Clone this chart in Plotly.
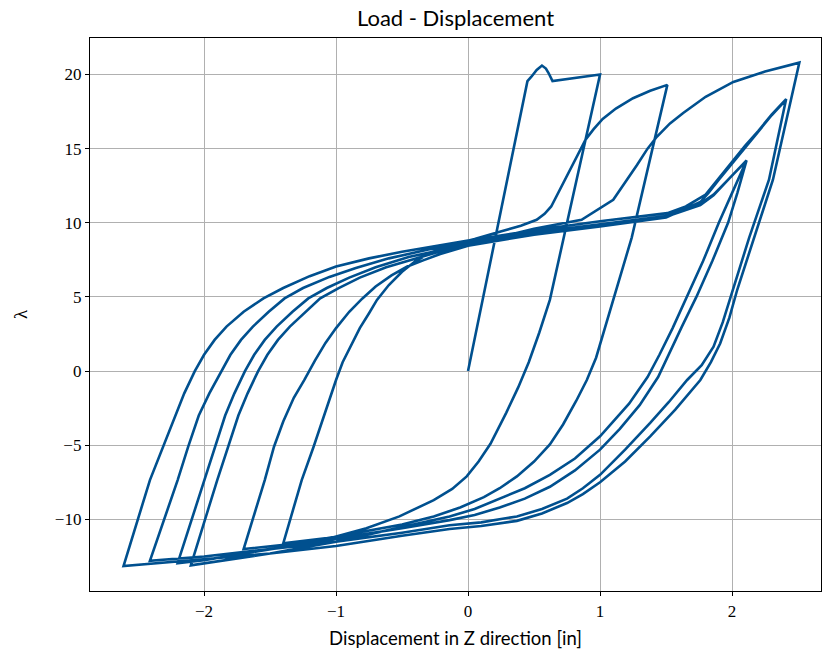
import plotly.graph_objects as go

# ---- data (displacement [in], load factor lambda) ----
# initial loading to +1.0
a_x = [0.0, 0.45, 0.48, 0.52, 0.56, 0.59, 0.61, 0.64, 1.0]
a_y = [0.0, 19.55, 19.85, 20.3, 20.6, 20.4, 20.1, 19.55, 20.0]
# unloading to -1.4
b_x = [1.0, 0.785, 0.62, 0.54, 0.46, 0.38, 0.29, 0.17, 0.08, -0.01, -0.12, -0.26, -0.52, -0.77, -1.02, -1.40]
b_y = [20.0, 11.5, 4.8, 2.6, 0.6, -1.1, -2.8, -4.9, -6.1, -7.1, -7.95, -8.7, -9.8, -10.6, -11.2, -11.62]
# reloading to +1.5
c_x = [-1.40, -1.26, -1.17, -1.10, -1.05, -1.0, -0.95, -0.88, -0.82, -0.75, -0.69, -0.60, -0.50, -0.40, -0.28,
       -0.15, 0.05, 0.22, 0.40, 0.52, 0.58, 0.63, 0.70, 0.77, 0.83, 0.89, 0.95, 1.02, 1.12, 1.25, 1.38, 1.51]
c_y = [-11.62, -7.35, -5.1, -3.2, -1.8, -0.6, 0.6, 1.8, 2.9, 3.9, 4.8, 5.8, 6.7, 7.4, 8.0,
       8.45, 8.9, 9.35, 9.8, 10.2, 10.6, 11.1, 12.3, 13.5, 14.6, 15.6, 16.3, 17.0, 17.7, 18.4, 18.9, 19.3]
# unloading to -1.7
d_x = [1.51, 1.24, 1.10, 1.03, 0.97, 0.90, 0.82, 0.72, 0.62, 0.50, 0.37, 0.24, 0.12, -0.06, -0.26, -0.50,
       -0.77, -1.02, -1.27, -1.70]
d_y = [19.3, 9.0, 4.8, 2.6, 0.9, -0.6, -2.0, -3.6, -4.95, -6.1, -7.1, -7.9, -8.5, -9.2, -9.8, -10.35,
       -10.8, -11.2, -11.6, -12.0]
# reloading to +2.5
e_x = [-1.70, -1.54, -1.47, -1.40, -1.32, -1.24, -1.16, -1.08, -1.0, -0.90, -0.80, -0.70, -0.58, -0.46, -0.33,
       -0.21, 0.0, 0.2, 0.5, 0.86, 1.10, 1.19, 1.28, 1.36, 1.43, 1.53, 1.63, 1.80, 2.01, 2.25, 2.51]
e_y = [-12.0, -7.35, -5.1, -3.4, -1.8, -0.6, 0.7, 1.9, 2.9, 4.0, 4.9, 5.7, 6.45, 7.05, 7.5,
       7.9, 8.45, 8.95, 9.6, 10.2, 11.55, 12.7, 13.9, 15.0, 15.8, 16.7, 17.4, 18.5, 19.5, 20.2, 20.8]
# unloading to -2.6
f_x = [2.51, 2.31, 2.17, 2.04, 1.98, 1.91, 1.84, 1.76, 1.57, 1.38, 1.19, 1.0, 0.87, 0.75, 0.56, 0.37, 0.10,
       -0.14, -0.50, -1.0, -1.5, -2.0, -2.61]
f_y = [20.8, 12.9, 9.0, 5.5, 3.6, 1.86, 0.6, -0.6, -2.6, -4.4, -6.1, -7.5, -8.3, -8.9, -9.6, -10.1, -10.45,
       -10.65, -11.1, -11.8, -12.3, -12.7, -13.15]
# reloading to +2.4
g_x = [-2.61, -2.41, -2.31, -2.22, -2.15, -2.07, -2.0, -1.92, -1.83, -1.70, -1.55, -1.40, -1.2, -1.0, -0.75,
       -0.5, -0.25, 0.0, 0.5, 1.0, 1.51, 1.65, 1.80, 1.90, 2.0, 2.1, 2.2, 2.3, 2.41]
g_y = [-13.15, -7.35, -5.1, -3.0, -1.5, 0.0, 1.1, 2.1, 3.0, 4.0, 4.9, 5.6, 6.4, 7.05, 7.6,
       8.05, 8.45, 8.8, 9.5, 10.1, 10.65, 11.1, 11.9, 13.0, 14.1, 15.2, 16.2, 17.3, 18.34]
# unloading to -2.4
h_x = [2.41, 2.28, 2.13, 1.99, 1.93, 1.86, 1.77, 1.66, 1.52, 1.38, 1.19, 1.0, 0.87, 0.75, 0.56, 0.37, 0.10,
       -0.14, -0.5, -1.0, -1.5, -2.0, -2.41]
h_y = [18.34, 12.9, 9.0, 5.0, 3.3, 1.64, 0.4, -0.6, -2.1, -3.5, -5.3, -7.0, -7.9, -8.6, -9.3, -9.8, -10.2,
       -10.4, -10.9, -11.5, -12.0, -12.5, -12.8]
# reloading to +2.1
i_x = [-2.41, -2.20, -2.12, -2.04, -1.96, -1.87, -1.80, -1.72, -1.63, -1.51, -1.39, -1.25, -1.05, -0.85, -0.6,
       -0.3, 0.0, 0.5, 1.0, 1.5, 1.76, 1.86, 1.98, 2.11]
i_y = [-12.8, -7.35, -5.1, -3.0, -1.5, 0.0, 1.1, 2.1, 3.0, 4.0, 4.9, 5.6, 6.35, 6.95, 7.6,
       8.2, 8.65, 9.35, 9.9, 10.45, 11.3, 11.9, 13.0, 14.2]
# unloading to -2.2
j_x = [2.11, 2.04, 1.97, 1.85, 1.73, 1.62, 1.53, 1.44, 1.30, 1.15, 1.0, 0.81, 0.62, 0.43, 0.24, 0.05,
       -0.14, -0.5, -1.0, -1.5, -2.0, -2.20]
j_y = [14.2, 12.0, 10.0, 7.4, 5.0, 3.0, 1.3, -0.4, -2.3, -3.9, -5.3, -6.7, -7.8, -8.6, -9.2, -9.7,
       -10.05, -10.6, -11.3, -12.0, -12.75, -12.95]
# reloading to +2.1
k_x = [-2.20, -2.0, -1.92, -1.84, -1.77, -1.69, -1.62, -1.54, -1.45, -1.33, -1.21, -1.07, -0.9, -0.7, -0.45,
       -0.2, 0.0, 0.5, 1.0, 1.5, 1.76, 1.86, 1.98, 2.11]
k_y = [-12.95, -7.35, -5.1, -3.0, -1.5, 0.0, 1.1, 2.1, 3.0, 4.0, 4.9, 5.6, 6.3, 7.0, 7.7,
       8.2, 8.55, 9.25, 9.8, 10.4, 11.2, 11.85, 13.0, 14.2]
# unloading to -2.1
l_x = [2.11, 2.0, 1.90, 1.78, 1.66, 1.55, 1.45, 1.36, 1.22, 1.10, 1.0, 0.81, 0.62, 0.43, 0.24, 0.05,
       -0.14, -0.5, -1.0, -1.5, -2.0, -2.10]
l_y = [14.2, 12.0, 10.0, 7.4, 5.0, 2.9, 1.1, -0.4, -2.2, -3.4, -4.4, -5.9, -7.0, -7.9, -8.6, -9.3,
       -9.8, -10.5, -11.5, -12.3, -12.95, -13.1]
# final reloading to +2.4
m_x = [-2.10, -1.90, -1.82, -1.74, -1.67, -1.59, -1.52, -1.44, -1.35, -1.23, -1.12, -0.98, -0.82, -0.62, -0.4,
       -0.2, 0.0, 0.5, 1.0, 1.5, 1.76, 1.82, 1.9, 2.0, 2.1, 2.2, 2.3, 2.41]
m_y = [-13.1, -7.35, -5.1, -3.0, -1.5, 0.0, 1.1, 2.1, 3.0, 4.0, 4.9, 5.6, 6.3, 7.0, 7.6,
       8.1, 8.45, 9.2, 9.75, 10.35, 11.4, 12.0, 12.9, 14.0, 15.1, 16.2, 17.25, 18.3]

branches_x = [a_x, b_x, c_x, d_x, e_x, f_x, g_x, h_x, i_x, j_x, k_x, l_x, m_x]
branches_y = [a_y, b_y, c_y, d_y, e_y, f_y, g_y, h_y, i_y, j_y, k_y, l_y, m_y]

xs, ys = [], []
for bx, by in zip(branches_x, branches_y):
    start = 1 if xs else 0
    xs.extend(bx[start:])
    ys.extend(by[start:])

fig = go.Figure()
fig.add_trace(go.Scatter(x=xs, y=ys, mode="lines",
                         line=dict(color="#00508f", width=2.6),
                         showlegend=False, hoverinfo="skip"))

axis_common = dict(showline=True, linecolor="black", linewidth=1.3, mirror=True,
                   ticks="outside", ticklen=4, tickwidth=1.2, tickcolor="black",
                   showgrid=True, gridcolor="#b0b0b0", gridwidth=1.2, zeroline=False,
                   tickfont=dict(family="Liberation Serif, serif", size=17, color="black"))

fig.update_layout(
    width=822, height=658,
    margin=dict(l=90, r=1, t=38, b=67),
    paper_bgcolor="white", plot_bgcolor="white",
    title=dict(text="Load - Displacement", x=0.5, xref="paper", xanchor="center",
               y=1 - 18 / 658, yref="container", yanchor="middle",
               font=dict(family="Lato, sans-serif", size=22, color="black")),
    xaxis=dict(range=[-2.864, 2.674], tickvals=[-2, -1, 0, 1, 2],
               title=dict(text="Displacement in Z direction [in]", standoff=12,
                          font=dict(family="Lato, sans-serif", size=18.5, color="black")),
               **axis_common),
    yaxis=dict(range=[-14.83, 22.46], tickvals=[-10, -5, 0, 5, 10, 15, 20],
               title=dict(text="λ", standoff=22,
                          font=dict(family="Liberation Serif, serif", size=19, color="black")),
               **axis_common),
)

fig.write_html("out.html")
